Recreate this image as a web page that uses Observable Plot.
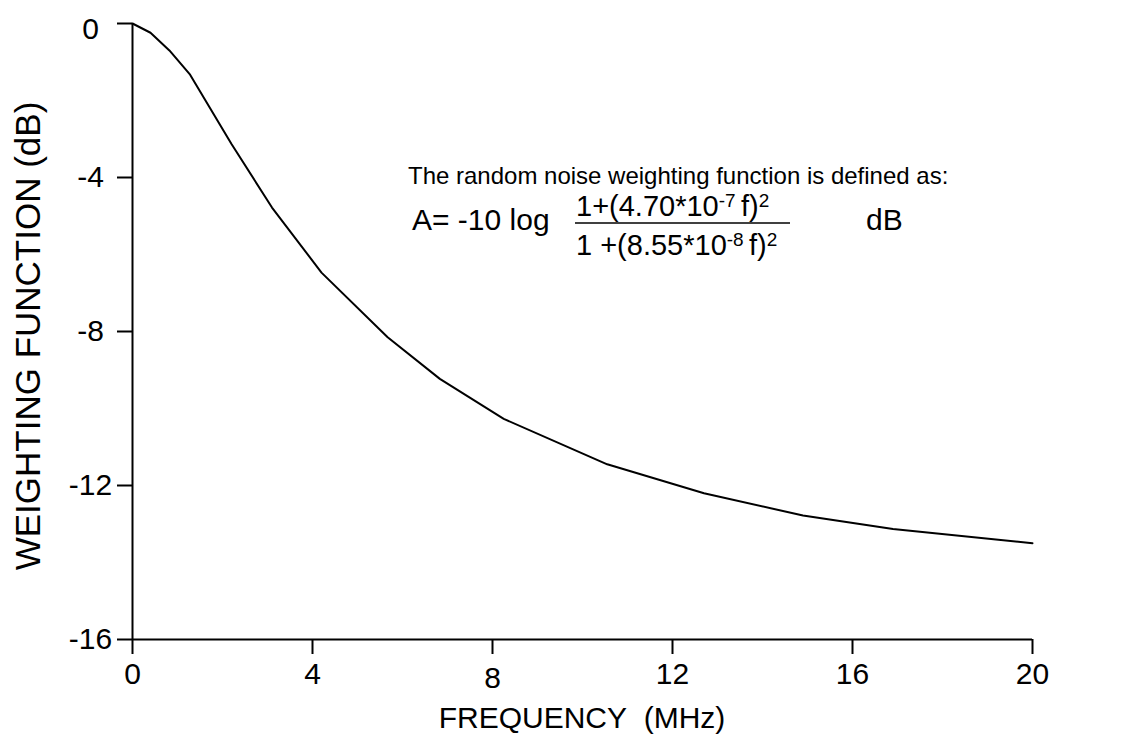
<!DOCTYPE html>
<html>
<head>
<meta charset="utf-8">
<script src="https://cdn.jsdelivr.net/npm/d3@7"></script>
<script src="https://cdn.jsdelivr.net/npm/@observablehq/plot@0.6"></script>
<style>
  html, body { margin: 0; padding: 0; background: #fff; }
  #chart { width: 1132px; height: 750px; }
</style>
</head>
<body>
<div id="chart"></div>
<script>
// Frequency (MHz) at each vertex of the plotted curve
const freq = [0, 0.4, 0.82, 1.28, 2.2, 3.1, 4.2, 5.67, 6.83, 8.25, 10.55, 12.7, 14.9, 16.9, 20];
// Weighting function (dB)
const weight = [0, -0.24, -0.70, -1.33, -3.13, -4.78, -6.47, -8.15, -9.23, -10.27, -11.45, -12.2, -12.78, -13.13, -13.5];
const xTicks = [0, 4, 8, 12, 16, 20];
const yTicks = [0, -4, -8, -12, -16];
const xLabel = "FREQUENCY\u00a0\u00a0(MHz)";
const yLabel = "WEIGHTING FUNCTION (dB)";

const data = freq.map((f, i) => ({f, w: weight[i]}));
const font = "'Liberation Sans', Arial, Helvetica, sans-serif";
const fmt = d => String(d);

const chart = Plot.plot({
  width: 1132,
  height: 750,
  marginLeft: 132,
  marginRight: 100,
  marginTop: 23,
  marginBottom: 111,
  style: {fontFamily: font, fontSize: "30px", background: "#fff", color: "#000"},
  x: {domain: [0, 20]},
  y: {domain: [-16, 0]},
  marks: [
    // y ticks (all) and labels (the top label sits slightly low)
    Plot.axisY(yTicks, {tickSize: 15, strokeWidth: 2, text: null, label: null}),
    Plot.axisY(yTicks.filter(d => d !== 0), {tickSize: 0, tickPadding: 42, fontSize: 30,
      textAnchor: "middle", tickFormat: fmt, label: null}),
    Plot.axisY([0], {tickSize: 0, tickPadding: 42, fontSize: 30,
      textAnchor: "middle", tickFormat: fmt, dy: 6, label: null}),
    Plot.axisX(xTicks.filter(d => d !== 8), {tickSize: 15, tickPadding: 8, strokeWidth: 2, fontSize: 30,
      tickFormat: fmt, label: null}),
    Plot.axisX([8], {tickSize: 15, tickPadding: 12, strokeWidth: 2, fontSize: 30, tickFormat: fmt, label: null}),
    Plot.ruleY([-16], {strokeWidth: 2}),
    Plot.ruleX([0], {strokeWidth: 2}),
    Plot.line(data, {x: "f", y: "w", stroke: "#000", strokeWidth: 2})
  ]
});
document.getElementById("chart").appendChild(chart);

const svg = d3.select(chart);
// Axis titles
svg.append("text").attr("x", 582).attr("y", 728).attr("text-anchor", "middle")
  .attr("font-family", font).attr("font-size", 30).attr("fill", "#000").text(xLabel);
svg.append("text").attr("transform", "translate(40,336) rotate(-90)").attr("text-anchor", "middle")
  .attr("font-family", font).attr("font-size", 35).attr("fill", "#000").text(yLabel);

// Annotation with the formula
const g = svg.append("g").attr("font-family", font).attr("fill", "#000").attr("text-anchor", "start");
g.append("text").attr("x", 408).attr("y", 184).attr("font-size", 24)
  .text("The random noise weighting function is defined as:");
g.append("text").attr("x", 412).attr("y", 230).attr("font-size", 30).text("A= -10 log");
const num = g.append("text").attr("x", 576).attr("y", 216).attr("font-size", 29);
num.append("tspan").text("1+(4.70*10");
num.append("tspan").attr("font-size", 19).attr("dy", -9).text("-7 ");
num.append("tspan").attr("dy", 9).text("f)");
num.append("tspan").attr("font-size", 19).attr("dy", -9).text("2");
g.append("line").attr("x1", 575).attr("x2", 790).attr("y1", 223).attr("y2", 223)
  .attr("stroke", "#000").attr("stroke-width", 1.5);
const den = g.append("text").attr("x", 576).attr("y", 255).attr("font-size", 29);
den.append("tspan").text("1 +(8.55*10");
den.append("tspan").attr("font-size", 19).attr("dy", -9).text("-8 ");
den.append("tspan").attr("dy", 9).text("f)");
den.append("tspan").attr("font-size", 19).attr("dy", -9).text("2");
g.append("text").attr("x", 866).attr("y", 230).attr("font-size", 30).text("dB");
</script>
</body>
</html>
